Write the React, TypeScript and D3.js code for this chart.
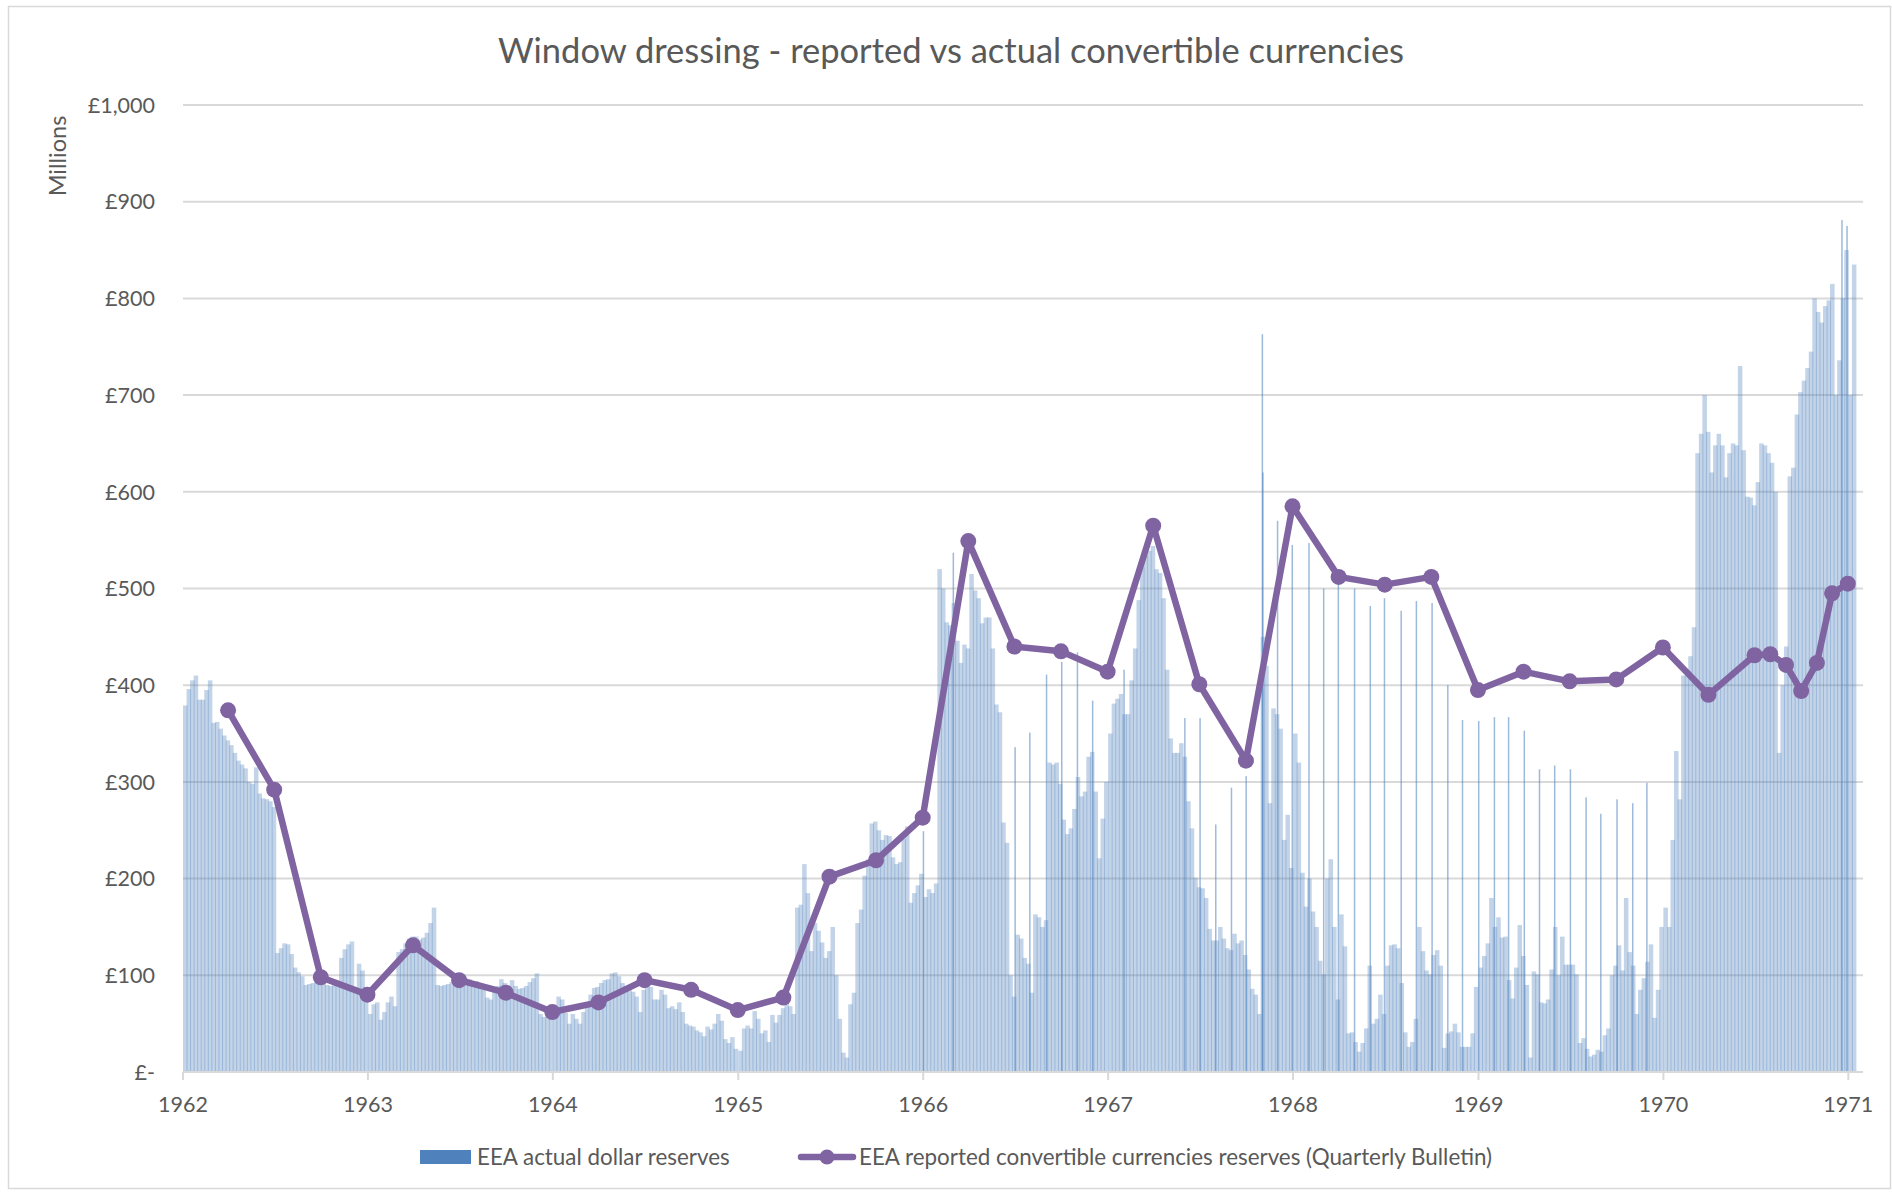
import React from 'react';
import * as d3 from 'd3';

// ---------- DATA ----------
// EEA actual dollar reserves (£m), read weekly from the picture (week i starts Jan 1 + 7*i days)
const actual1962 = [379,396,405,410,385,385,395,405,361,362,355,348,343,338,330,322,318,314,300,298,315,288,283,282,280,274,123,128,133,132,122,108,103,99,90,91,92,95,96,92,90,89,90,92,118,127,132,135,85,112,105,88];
const actual1963 = [60,70,72,54,62,72,78,68,124,127,133,138,140,140,137,139,144,154,170,90,89,90,91,93,96,98,99,97,96,94,94,92,85,77,75,88,89,96,92,87,95,89,86,87,89,93,97,102,60,57,60,58];
const actual1964 = [68,78,75,61,50,60,55,50,62,68,80,87,88,92,95,96,102,103,99,92,89,87,83,78,62,85,90,88,75,75,85,80,66,68,65,72,62,50,48,47,43,41,37,47,44,50,60,53,34,30,36,24];
const actual1965 = [22,45,48,45,63,55,40,43,31,59,51,59,66,80,68,60,170,173,215,185,125,154,146,134,118,125,150,100,55,20,15,70,82,154,168,203,220,257,259,250,240,245,244,222,215,217,241,254,175,185,193,205];
const actual1966 = [181,189,185,195,520,500,465,462,485,446,423,442,438,515,498,490,464,470,470,438,380,372,258,237,100,78,142,138,118,112,82,163,160,150,157,320,318,320,298,261,246,252,272,305,285,290,326,331,290,221,262,300];
const actual1967 = [350,381,386,391,370,370,405,438,488,522,534,539,544,520,516,490,416,345,330,330,340,326,280,252,201,191,190,180,148,136,136,150,138,128,126,143,133,136,121,106,86,80,60,450,420,278,376,370,355,240,266,211];
const actual1968 = [350,320,206,171,200,166,150,115,101,200,220,150,75,163,130,40,41,31,21,30,45,110,50,55,80,60,110,131,132,128,92,41,26,31,55,150,125,105,101,121,126,110,25,40,42,50,41,26,26,26,40,88];
const actual1969 = [108,120,133,180,150,160,139,140,95,76,108,152,120,90,15,104,101,72,71,75,106,150,100,140,111,111,111,101,30,35,24,16,18,23,21,38,45,100,110,131,105,180,124,110,60,85,97,114,132,56,85,150];
const actual1970 = [170,150,240,332,282,410,410,430,460,640,660,700,662,620,648,660,648,615,640,650,648,730,643,595,594,586,610,650,648,640,630,600,330,400,440,616,625,680,703,715,728,745,800,786,775,792,798,815,700,736,800,850];
const actual1971 = [700,835];

const actualYears = [1962,1963,1964,1965,1966,1967,1968,1969,1970,1971];
const actualSeries = [actual1962,actual1963,actual1964,actual1965,actual1966,actual1967,actual1968,actual1969,actual1970,actual1971];

// single-day month-end peaks (window dressing days)
const spikeDates = ['1965-12-31','1966-02-28','1966-06-30','1966-07-29','1966-08-31','1966-09-30','1966-10-31','1966-11-30','1967-01-31','1967-05-31','1967-06-30','1967-07-31','1967-08-31','1967-09-29','1967-10-31','1967-11-01','1967-11-30','1967-12-29','1968-01-31','1968-02-29','1968-03-29','1968-04-30','1968-05-31','1968-06-28','1968-07-31','1968-08-30','1968-09-30','1968-10-31','1968-11-29','1968-12-31','1969-01-31','1969-02-28','1969-03-31','1969-04-30','1969-05-30','1969-06-30','1969-07-31','1969-08-29','1969-09-30','1969-10-31','1969-11-28','1970-12-18','1970-12-28'];
const spikeValues = [249,537,336,351,411,424,434,384,416,366,366,256,294,306,763,620,570,545,547,500,505,500,482,490,477,487,485,400,364,363,367,367,353,313,317,313,284,267,282,278,299,881,875];

// EEA reported convertible currencies reserves (Quarterly Bulletin)
const reportedDates = ['1962-03-31','1962-06-30','1962-09-30','1962-12-31','1963-03-31','1963-06-30','1963-09-30','1963-12-31','1964-03-31','1964-06-30','1964-09-30','1964-12-31','1965-03-31','1965-06-30','1965-09-30','1965-12-31','1966-03-31','1966-06-30','1966-09-30','1966-12-31','1967-03-31','1967-06-30','1967-09-30','1967-12-31','1968-03-31','1968-06-30','1968-09-30','1968-12-31','1969-03-31','1969-06-30','1969-09-30','1969-12-31','1970-03-31','1970-06-30','1970-07-31','1970-08-31','1970-09-30','1970-10-31','1970-11-30','1970-12-31'];
const reportedValues = [374,292,98,80,131,95,82,62,72,95,85,64,77,202,219,263,549,440,435,414,565,401,322,585,512,504,512,395,414,404,406,439,390,431,432,421,394,423,495,505];

const yTickValues = [0,100,200,300,400,500,600,700,800,900,1000];
const yTickLabels = ['£-','£100','£200','£300','£400','£500','£600','£700','£800','£900','£1,000'];
const xTickYears = [1962,1963,1964,1965,1966,1967,1968,1969,1970,1971];

const TITLE = 'Window dressing - reported vs actual convertible currencies';
const LEGEND_BARS = 'EEA actual dollar reserves';
const LEGEND_LINE = 'EEA reported convertible currencies reserves (Quarterly Bulletin)';

const FONT = "Lato, 'Open Sans', sans-serif";
const TEXT = '#595959';
const GRID = '#d9d9d9';
const BLUE = '#4F81BD';
const PURPLE = '#8064A2';

export default function App() {
  const W = 1892, H = 1192;
  const parse = d3.timeParse('%Y-%m-%d');
  const x = d3.scaleTime().domain([new Date(1962, 0, 1), new Date(1971, 0, 30)]).range([183, 1863]);
  const y = d3.scaleLinear().domain([0, 1000]).range([1072, 105]);

  const weekly = actualYears.flatMap((yr, k) =>
    actualSeries[k].map((v, i) => {
      const d0 = d3.timeDay.offset(new Date(yr, 0, 1), 7 * i);
      const d1 = d3.timeDay.offset(d0, 7);
      return { d0, d1, v };
    })
  );
  const spikes = spikeDates.map((s, i) => ({ d: parse(s) as Date, v: spikeValues[i] }));
  const reported = reportedDates.map((s, i) => ({ d: parse(s) as Date, v: reportedValues[i] }));

  const line = d3.line<{ d: Date; v: number }>().x(p => x(p.d)).y(p => y(p.v));
  const [x0, x1] = x.range();

  return (
    <svg width={W} height={H} style={{ position: 'absolute', left: 0, top: 0, background: '#fff' }} fontFamily={FONT}>
      <rect x={0} y={0} width={W} height={H} fill="#fff" />
      <rect x={8.5} y={6.5} width={1882} height={1182} fill="none" stroke={GRID} strokeWidth={1.5} />

      <text x={951} y={63} textAnchor="middle" fontSize={34.5} fill={TEXT}>{TITLE}</text>

      <text transform={`translate(66,156) rotate(-90)`} textAnchor="middle" fontSize={23.5} fill={TEXT}>Millions</text>

      {/* gridlines */}
      {yTickValues.filter(v => v > 0).map(v => (
        <line key={v} x1={x0} x2={x1} y1={y(v)} y2={y(v)} stroke={GRID} strokeWidth={2} />
      ))}

      {/* y tick labels */}
      {yTickValues.map((v, i) => (
        <text key={v} x={155} y={y(v)} dy="0.36em" textAnchor="end" fontSize={21.5} fill={TEXT}>{yTickLabels[i]}</text>
      ))}

      {/* bars */}
      <g fill={BLUE} fillOpacity={0.34}>
        {weekly.map((b, i) => {
          const bx = x(b.d0);
          const bw = x(b.d1) - bx;
          return <rect key={i} x={bx} y={y(b.v)} width={bw + 1.0} height={y(0) - y(b.v)} />;
        })}
      </g>
      <g fill={BLUE} fillOpacity={0.55}>
        {spikes.map((s, i) => (
          <rect key={i} x={x(s.d)} y={y(s.v)} width={1.5} height={y(0) - y(s.v)} />
        ))}
      </g>

      {/* x axis */}
      <line x1={x0} x2={x1} y1={y(0)} y2={y(0)} stroke={GRID} strokeWidth={2} />
      {xTickYears.map(yr => {
        const tx = x(new Date(yr, 0, 1));
        return (
          <g key={yr}>
            <line x1={tx} x2={tx} y1={y(0)} y2={y(0) + 8} stroke={GRID} strokeWidth={2} />
            <text x={tx} y={1112} textAnchor="middle" fontSize={21.5} fill={TEXT}>{yr}</text>
          </g>
        );
      })}

      {/* reported line */}
      <path d={line(reported) || ''} fill="none" stroke={PURPLE} strokeWidth={6.5} strokeLinejoin="round" strokeLinecap="round" />
      {reported.map((p, i) => (
        <circle key={i} cx={x(p.d)} cy={y(p.v)} r={8} fill={PURPLE} />
      ))}

      {/* legend */}
      <rect x={420} y={1150} width={51} height={14} fill={BLUE} />
      <text x={477} y={1157} dy="0.36em" fontSize={22.4} fill={TEXT}>{LEGEND_BARS}</text>
      <line x1={801} x2={853} y1={1157} y2={1157} stroke={PURPLE} strokeWidth={6.5} strokeLinecap="round" />
      <circle cx={827} cy={1157} r={7.5} fill={PURPLE} />
      <text x={859} y={1157} dy="0.36em" fontSize={22.4} fill={TEXT}>{LEGEND_LINE}</text>
    </svg>
  );
}
